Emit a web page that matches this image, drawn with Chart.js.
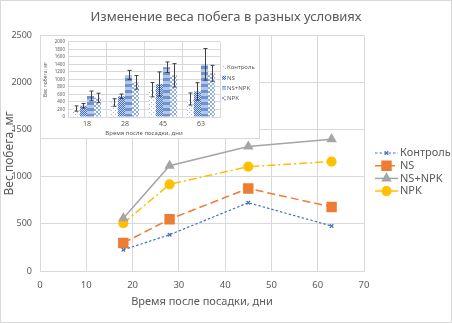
<!DOCTYPE html>
<html>
<head>
<meta charset="utf-8">
<script src="https://cdn.jsdelivr.net/npm/chart.js@4"></script>
<style>
  body { margin: 0; background: #fff; }
  #wrap { position: relative; width: 452px; height: 323px; font-family: "Noto Sans", sans-serif; }
  #main { position: absolute; left: 0; top: 0; }
  #frame { position: absolute; left: 0; top: 0; width: 452px; height: 323px; box-sizing: border-box; border: 1px solid #d9d9d9; pointer-events: none; }
  #insetBox { position: absolute; left: 40px; top: 35px; width: 218px; height: 102px; border: 1px solid #d9d9d9; background: #fff; }
</style>
</head>
<body>
<div id="wrap">
  <canvas id="main" width="452" height="323"></canvas>
  <div id="insetBox"><canvas id="inset" width="218" height="102"></canvas></div>
  <div id="frame"></div>
</div>
<script>
// данные
const days = [18, 28, 45, 63];
const seriesNames = ['Контроль', 'NS', 'NS+NPK', 'NPK'];
const control = [225, 385, 725, 478];
const ns = [298, 550, 877, 680];
const nsNpk = [560, 1118, 1322, 1400];
const npk = [508, 920, 1108, 1162];
// стандартные отклонения (вставка)
const controlErr = [70, 100, 190, 160];
const nsErr = [60, 60, 320, 230];
const nsNpkErr = [130, 120, 140, 420];
const npkErr = [125, 180, 310, 210];

const xTicks = [0, 10, 20, 30, 40, 50, 60, 70];
const yTicksMain = [0, 500, 1000, 1500, 2000, 2500];

const textColor = '#595959';
const gridColor = '#d9d9d9';
const font = '"Noto Sans", sans-serif';

function pts(vals) {
    return days.map((d, i) => ({ x: d, y: vals[i] }));
}

// легенда основного графика
const mainLegend = {
    id: 'mainLegend',
    afterDraw(chart) {
        const ctx = chart.ctx;
        ctx.save();
        chart.data.datasets.forEach((ds, i) => {
            const y = 153 + i * 12.7;
            ctx.strokeStyle = ds.borderColor;
            ctx.lineWidth = ds.borderWidth;
            ctx.setLineDash(ds.borderDash || []);
            ctx.beginPath();
            ctx.moveTo(375, y);
            ctx.lineTo(398, y);
            ctx.stroke();
            ctx.setLineDash([]);
            ctx.fillStyle = ds.pointBackgroundColor;
            ctx.strokeStyle = ds.pointBorderColor;
            Chart.helpers.drawPoint(ctx, {
                pointStyle: ds.pointStyle,
                radius: ds.pointRadius,
                rotation: 0,
                borderWidth: 1
            }, 386.5, y);
            ctx.fillStyle = textColor;
            ctx.font = '11px ' + font;
            ctx.textBaseline = 'middle';
            ctx.fillText(ds.label, 400, y);
        });
        ctx.restore();
    }
};

var mainChart = new Chart(document.getElementById('main').getContext('2d'), {
    type: 'scatter',
    data: {
        datasets: [
            { label: seriesNames[0], data: pts(control), yAxisID: 'y', showLine: true, borderColor: '#4472C4', borderWidth: 1.2, borderDash: [2.5, 2], pointStyle: 'crossRot', pointRadius: 2.5, pointBorderColor: '#4472C4', pointBackgroundColor: '#4472C4' },
            { label: seriesNames[1], data: pts(ns), yAxisID: 'y', showLine: true, borderColor: '#ED7D31', borderWidth: 1.5, borderDash: [8, 4], pointStyle: 'rect', pointRadius: 6.3, pointBorderColor: '#ED7D31', pointBackgroundColor: '#ED7D31' },
            { label: seriesNames[2], data: pts(nsNpk), yAxisID: 'y', showLine: true, borderColor: '#A5A5A5', borderWidth: 1.5, pointStyle: 'triangle', pointRadius: 4.6, pointBorderColor: '#A5A5A5', pointBackgroundColor: '#A5A5A5' },
            { label: seriesNames[3], data: pts(npk), yAxisID: 'y', showLine: true, borderColor: '#FFC000', borderWidth: 1.5, borderDash: [8, 3, 2, 3], pointStyle: 'circle', pointRadius: 4.3, pointBorderColor: '#FFC000', pointBackgroundColor: '#FFC000' }
        ]
    },
    options: {
        responsive: false,
        animation: false,
        layout: { padding: { left: 0, right: 0, top: 0, bottom: 12 } },
        plugins: {
            legend: { display: false },
            tooltip: { enabled: false },
            title: {
                display: true,
                text: 'Изменение веса побега в разных условиях',
                color: textColor,
                font: { family: font, size: 13, weight: 'normal' },
                padding: { top: 9, bottom: 11 }
            }
        },
        scales: {
            x: {
                type: 'linear', min: 0, max: 70,
                afterBuildTicks: s => { s.ticks = xTicks.map(v => ({ value: v })); },
                afterFit: s => { s.height = 40; },
                ticks: { color: textColor, font: { family: font, size: 9.5 }, padding: 9, callback: v => String(v) },
                grid: { color: gridColor, drawTicks: false },
                border: { color: gridColor },
                title: { display: true, text: 'Время после посадки, дни', color: textColor, font: { family: font, size: 11 }, padding: { top: 0, bottom: 3 } }
            },
            y: {
                min: 0, max: 2500,
                afterBuildTicks: s => { s.ticks = yTicksMain.map(v => ({ value: v })); },
                afterFit: s => { s.width = 40; },
                ticks: { color: textColor, font: { family: font, size: 9 }, padding: 8, callback: v => String(v) },
                grid: { color: gridColor, drawTicks: false },
                border: { display: false },
                title: { display: true, text: 'Вес побега, мг', color: textColor, font: { family: font, size: 12 }, padding: { top: 2, bottom: 0 } }
            },
            // пустая полоса справа под легенду
            side: {
                position: 'right', min: 0, max: 1,
                afterFit: s => { s.width = 88; },
                ticks: { display: false },
                grid: { display: false },
                border: { display: false }
            }
        }
    },
    plugins: [mainLegend]
});

// узоры для столбцов вставки
function makePattern(kind) {
    const c = document.createElement('canvas');
    const g = c.getContext('2d');
    if (kind === 'dots') {
        c.width = 4; c.height = 4;
        g.fillStyle = '#fff'; g.fillRect(0, 0, 4, 4);
        g.fillStyle = '#9fb6e0'; g.fillRect(0, 0, 1, 1); g.fillRect(2, 2, 1, 1);
    } else if (kind === 'checker') {
        c.width = 2; c.height = 2;
        g.fillStyle = '#c9d6ef'; g.fillRect(0, 0, 2, 2);
        g.fillStyle = '#4472C4'; g.fillRect(0, 0, 1, 1); g.fillRect(1, 1, 1, 1);
    } else if (kind === 'stripes') {
        c.width = 4; c.height = 6;
        g.fillStyle = '#b4c7e7'; g.fillRect(0, 0, 4, 6);
        g.fillStyle = '#6e93d4'; g.fillRect(0, 0, 4, 3);
    } else {
        c.width = 4; c.height = 4;
        g.fillStyle = '#fff'; g.fillRect(0, 0, 4, 4);
        g.fillStyle = '#8faadc';
        g.fillRect(0, 0, 1, 1); g.fillRect(1, 1, 1, 1); g.fillRect(2, 2, 1, 1); g.fillRect(3, 3, 1, 1);
        g.fillRect(3, 0, 1, 1); g.fillRect(2, 1, 1, 1); g.fillRect(1, 2, 1, 1); g.fillRect(0, 3, 1, 1);
    }
    return g.createPattern(c, 'repeat');
}

const errorBars = {
    id: 'errorBars',
    afterDatasetsDraw(chart) {
        const ctx = chart.ctx;
        const yScale = chart.scales.y;
        ctx.save();
        ctx.strokeStyle = '#404040';
        ctx.lineWidth = 1;
        chart.data.datasets.forEach((ds, di) => {
            chart.getDatasetMeta(di).data.forEach((bar, i) => {
                const top = yScale.getPixelForValue(ds.data[i] + ds.errors[i]);
                const bot = yScale.getPixelForValue(ds.data[i] - ds.errors[i]);
                const x = Math.round(bar.x) + 0.5;
                ctx.beginPath();
                ctx.moveTo(x, top); ctx.lineTo(x, bot);
                ctx.moveTo(x - 2, top); ctx.lineTo(x + 2, top);
                ctx.moveTo(x - 2, bot); ctx.lineTo(x + 2, bot);
                ctx.stroke();
            });
        });
        ctx.restore();
    }
};

const insetLegend = {
    id: 'insetLegend',
    afterDraw(chart) {
        const ctx = chart.ctx;
        ctx.save();
        chart.data.datasets.forEach((ds, i) => {
            const y = 31.5 + i * 10.3;
            ctx.fillStyle = ds.backgroundColor;
            ctx.fillRect(181, y - 2, 4, 4);
            ctx.fillStyle = textColor;
            ctx.font = '6px ' + font;
            ctx.textBaseline = 'middle';
            ctx.fillText(ds.label, 186, y);
        });
        ctx.restore();
    }
};

var insetChart = new Chart(document.getElementById('inset').getContext('2d'), {
    type: 'bar',
    data: {
        labels: days.map(String),
        datasets: [
            { label: seriesNames[0], data: control, errors: controlErr, backgroundColor: makePattern('dots') },
            { label: seriesNames[1], data: ns, errors: nsErr, backgroundColor: makePattern('checker') },
            { label: seriesNames[2], data: nsNpk, errors: nsNpkErr, backgroundColor: makePattern('stripes') },
            { label: seriesNames[3], data: npk, errors: npkErr, backgroundColor: makePattern('lattice') }
        ]
    },
    options: {
        responsive: false,
        animation: false,
        layout: { padding: { left: 2, right: 39, top: 4, bottom: 1 } },
        datasets: { bar: { categoryPercentage: 0.74, barPercentage: 1 } },
        plugins: { legend: { display: false }, tooltip: { enabled: false } },
        scales: {
            x: {
                afterFit: s => { s.height = 20; },
                ticks: { color: textColor, font: { family: font, size: 7 }, padding: 3 },
                grid: { color: gridColor, drawTicks: false },
                border: { color: gridColor },
                title: { display: true, text: 'Время после посадки, дни', color: textColor, font: { family: font, size: 6 }, padding: { top: 0, bottom: 0 } }
            },
            y: {
                min: 0, max: 2000,
                ticks: { stepSize: 200, autoSkip: false, color: textColor, font: { family: font, size: 4.5 }, padding: 3, callback: v => String(v) },
                afterFit: s => { s.width = 25; },
                grid: { color: gridColor, drawTicks: false },
                border: { display: false },
                title: { display: true, text: 'Вес побега, мг', color: textColor, font: { family: font, size: 5 }, padding: { top: 0, bottom: 0 } }
            }
        }
    },
    plugins: [errorBars, insetLegend]
});
</script>
</body>
</html>
